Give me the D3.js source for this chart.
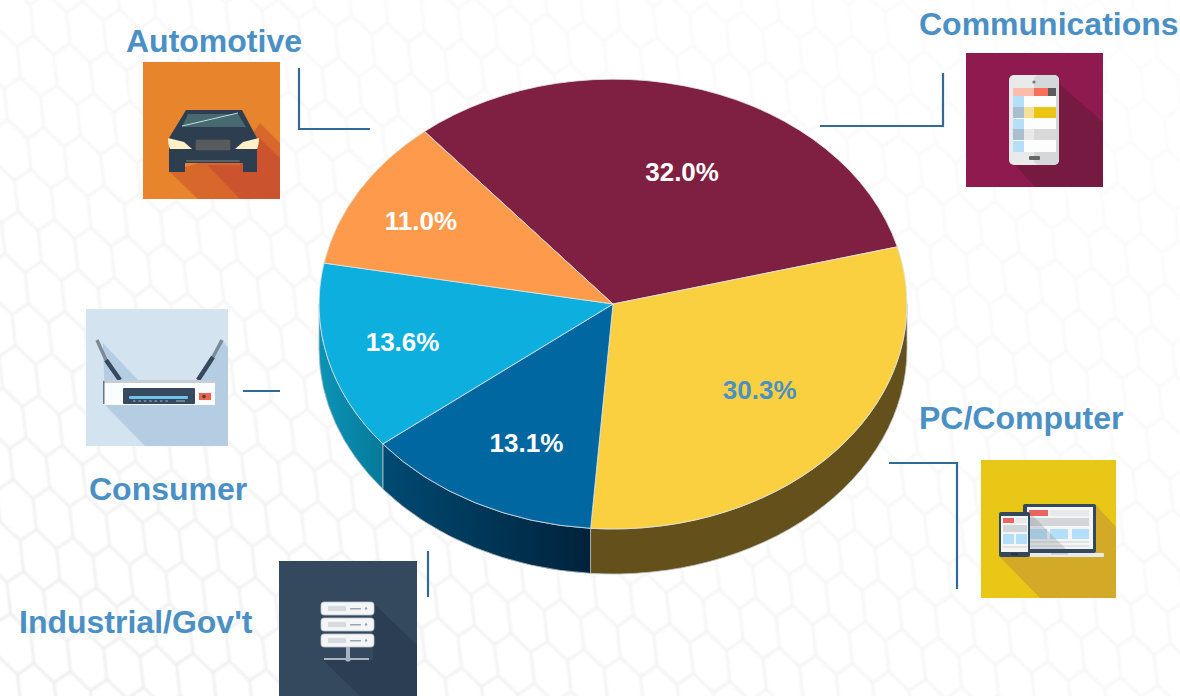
<!DOCTYPE html>
<html><head><meta charset="utf-8">
<style>html,body{margin:0;padding:0;background:#fff;overflow:hidden}svg{display:block}text{font-family:"Liberation Sans",Arial,sans-serif;font-weight:bold}</style>
<script src="https://cdn.jsdelivr.net/npm/d3@7/dist/d3.min.js"></script>
</head><body><svg id="c" width="1180" height="696"></svg>
<script>
const categories = ["Communications","PC/Computer","Industrial/Gov't","Consumer","Automotive"];
const shares = [32.0,30.3,13.1,13.6,11.0];
const topColors = ["#7f2043","#fad040","#0067a0","#0dafde","#fe9a4b"];
const labelColors = ["#ffffff","#4a90c4","#ffffff","#ffffff","#ffffff"];
const wallLeft = ["#4d1428","#63501a","#004a72","#0b94b6","#a05a20"];
const wallRight = ["#4d1428","#63501a","#00223b","#06799a","#a05a20"];

const W=1180,H=696,cx=613,cy=304,rx=294,ry=225,depth=45,startDeg=-39.9;
const labelNudge=[[11,7],[0,-8],[3,10],[-25,3],[-27,-9]];
const svg=d3.select("#c");
const defs=svg.append("defs");
const x=d3.scaleLinear().domain([-1,1]).range([cx-rx,cx+rx]);
const y=d3.scaleLinear().domain([-1,1]).range([cy-ry,cy+ry]);
const rad=Math.PI/180;

/* ---------- faint hexagon backdrop ---------- */
const A=[36.5,8],B=[-13,42];
const v1=[(2*A[0]+B[0])/3,(2*A[1]+B[1])/3],v2=[(A[0]+2*B[0])/3,(A[1]+2*B[1])/3],v3=[(B[0]-A[0])/3,(B[1]-A[1])/3];
const hexV=[v1,v2,v3,[-v1[0],-v1[1]],[-v2[0],-v2[1]],[-v3[0],-v3[1]]];
const fade=defs.append("linearGradient").attr("id","fade").attr("x1",0).attr("y1",1).attr("x2",1).attr("y2",0);
fade.append("stop").attr("offset",0).attr("stop-color","#fff").attr("stop-opacity",1);
fade.append("stop").attr("offset",.45).attr("stop-color","#fff").attr("stop-opacity",.5);
fade.append("stop").attr("offset",1).attr("stop-color","#fff").attr("stop-opacity",.15);
const mask=defs.append("mask").attr("id","hexMask").attr("maskUnits","userSpaceOnUse").attr("x",0).attr("y",0).attr("width",W).attr("height",H);
mask.append("rect").attr("width",W).attr("height",H).attr("fill","url(#fade)");
defs.append("filter").attr("id","soft").append("feGaussianBlur").attr("stdDeviation",.8);
const hp=d3.path();
for(let i=-25;i<60;i++)for(let j=-30;j<40;j++){
  const px=53+i*A[0]+j*B[0],py=518+i*A[1]+j*B[1];
  if(px<-60||px>W+60||py<-60||py>H+60)continue;
  hexV.forEach((v,k)=>{k?hp.lineTo(px+v[0],py+v[1]):hp.moveTo(px+v[0],py+v[1]);});hp.closePath();
}
svg.append("g").attr("mask","url(#hexMask)").append("path").attr("d",hp.toString())
  .attr("fill","none").attr("stroke","#ececec").attr("stroke-width",2.6).attr("filter","url(#soft)");

/* ---------- pie ---------- */
const pie=d3.pie().sort(null).startAngle(startDeg*rad).endAngle((startDeg+360)*rad);
const arcs=pie(shares);
const unitArc=d3.arc().innerRadius(0).outerRadius(1);
const g=svg.append("g");

function wallPath(a0,a1){
  const px=a=>x(Math.sin(a)),py=a=>y(-Math.cos(a));
  return `M${px(a0)},${py(a0)}A${rx},${ry} 0 0 1 ${px(a1)},${py(a1)}L${px(a1)},${py(a1)+depth}A${rx},${ry} 0 0 0 ${px(a0)},${py(a0)+depth}Z`;
}
arcs.forEach((d,i)=>{
  const lo=Math.max(d.startAngle,90*rad),hi=Math.min(d.endAngle,270*rad);
  if(hi<=lo)return;
  const id="wall"+i;
  const xa=x(Math.sin(lo)),xb=x(Math.sin(hi));
  const gr=defs.append("linearGradient").attr("id",id).attr("gradientUnits","userSpaceOnUse")
    .attr("x1",Math.min(xa,xb)).attr("x2",Math.max(xa,xb)).attr("y1",0).attr("y2",0);
  gr.append("stop").attr("offset",0).attr("stop-color",wallLeft[i]);
  gr.append("stop").attr("offset",1).attr("stop-color",wallRight[i]);
  g.append("path").attr("d",wallPath(lo,hi)).attr("fill",`url(#${id})`)
    .attr("stroke","#b9bfc4").attr("stroke-width",.8);
});
g.append("g").attr("transform",`translate(${cx},${cy}) scale(${rx},${ry})`)
 .selectAll("path").data(arcs).join("path").attr("d",unitArc)
 .attr("fill",(d,i)=>topColors[i]).attr("stroke","#dfe3e6").attr("stroke-width",.8)
 .attr("vector-effect","non-scaling-stroke").style("vector-effect","non-scaling-stroke");
svg.selectAll("text.pct").data(arcs).join("text").attr("class","pct")
 .attr("x",(d,i)=>x(.65*Math.sin((d.startAngle+d.endAngle)/2))+labelNudge[i][0])
 .attr("y",(d,i)=>y(-.65*Math.cos((d.startAngle+d.endAngle)/2))+labelNudge[i][1])
 .attr("dy",".35em").attr("text-anchor","middle").attr("font-size",26)
 .attr("fill",(d,i)=>labelColors[i]).text(d=>d3.format(".1f")(d.value)+"%");

/* ---------- leaders ---------- */
const leaders=[[[299,68],[299,129],[370,129]],[[943,73],[943,126],[820,126]],[[243,391],[280,391]],[[428,551],[428,597]],[[889,463],[957,463],[957,589]]];
const ln=d3.line();
svg.selectAll("path.lead").data(leaders).join("path").attr("class","lead").attr("d",ln)
 .attr("fill","none").attr("stroke","#336a95").attr("stroke-width",2.2);

/* ---------- category names ---------- */
const namePos=[[919,35],[919,429],[19,633],[89,500],[126,52]];
svg.selectAll("text.name").data(categories).join("text").attr("class","name")
 .attr("x",(d,i)=>namePos[i][0]).attr("y",(d,i)=>namePos[i][1]).attr("font-size",32).attr("fill","#4a90c4").text(d=>d);

/* ---------- icons ---------- */
const ic=svg.append("g");
const R=(x0,y0,x1,y1,f,rr)=>ic.append("rect").attr("x",x0).attr("y",y0).attr("width",x1-x0).attr("height",y1-y0).attr("fill",f).attr("rx",rr||0);
const P=(pts,f,o)=>ic.append("polygon").attr("points",pts).attr("fill",f).attr("opacity",o==null?1:o);
const D=(d,f)=>ic.append("path").attr("d",d).attr("fill",f);
const L=(a,b,c,e,s,w)=>ic.append("line").attr("x1",a).attr("y1",b).attr("x2",c).attr("y2",e).attr("stroke",s).attr("stroke-width",w);

// car
R(143,62,280,199,"#e8842c");
P("170,172 198,199 280,199 280,143 260,123 240,150","#d8672c");
P("207,165 240,199 280,199 280,158 258,137 240,165","#cb542e");
D("M186,110L242,110L257,138V172H243V163H185V172H169V138Z","#2c3e50");
R(167,121,10,7,"#2c3e50",3);R(250,121,10,7,"#2c3e50",3);
P("182,127 188,114 238,114 246,127","#47696f");
L(182,126,238,113,"#bfe0e8",1);
D("M168,138L184,142L192,149L170,149Q168,145 168,138Z","#fdf0c8");
D("M259,138L243,142L235,149L257,149Q259,145 259,138Z","#fdf0c8");
R(195,139,231,151,"#3f4548",3);
d3.range(197,231,2).forEach(v=>L(v,140,v,150,"#7b7f7f",.8));
R(186,160,240,162,"#5a6068",1);

// phone
R(966,53,1103,187,"#8f1a50");
P("1057,82 1103,122 1103,187 1035,187 1015,165 1057,165","#771a41");
R(1009,75,1059,165,"#e9eaea",5);
R(1034,75,1059,165,"#d5d8da",5);
R(1013,88,1056,152,"#fdfdfe");
R(1013,88,1034,96,"#fdbcab");R(1034,88,1048,96,"#f7705a");R(1048,88,1056,96,"#5b5b5b");
[96,119,141].forEach(t=>R(1013,t,1024,t+11,"#b3e0f8"));
R(1013,107,1024,118,"#a9bfd0");R(1024,107,1034,118,"#f5e09a");R(1034,107,1056,118,"#eac516");
R(1013,129,1024,140,"#a9bfd0");R(1024,129,1034,140,"#e9e9e9");R(1034,129,1056,140,"#d9d9d9");
ic.append("circle").attr("cx",1034).attr("cy",82).attr("r",1.6).attr("fill","#777");
R(1029,156,1040,160,"#666",1);

// router
R(86,309,228,446,"#d4e3f0");
P("103,343 138,380 197,380 222,340 228,348 228,446 145,446 105,405","#b5cde2");
L(97,340,106,360,"#7d8a97",3.5);L(106,360,120,380,"#36495e",4.5);
L(222,340,213,357,"#7d8a97",3.5);L(213,357,198,380,"#36495e",4.5);
R(103,380,215,405,"#fbfcfd");
R(103,380,215,383,"#c6cdd6");R(103,381,104.5,404,"#6a7786");
R(123,388,195,404,"#36495e",1);
R(129,396,188,399,"#6ec3ea",1);
d3.range(133,170,5.4).forEach(v=>R(v,400.5,v+2.5,401.5,"#a8b4c0"));
R(176,400.5,185,401.5,"#a8b4c0");
R(199,393,211,400,"#f0604a");
ic.append("circle").attr("cx",204).attr("cy",396.5).attr("r",1.8).attr("fill","#444");

// server
R(279,561,417,696,"#34495e");
P("373,603 417,645 417,696 360,696 323,660 373,660","#2b3e53");
[602,618,634].forEach(t=>{
  ic.append("rect").attr("x",321).attr("y",t).attr("width",53).attr("height",13).attr("rx",3).attr("fill","#f3f5f7").attr("stroke","#bcc5cf").attr("stroke-width",.8);
  R(328,t+4,346,t+9,"#d5dae0");R(350,t+6,361,t+7.5,"#9aa5b1");
  ic.append("circle").attr("cx",366).attr("cy",t+6.5).attr("r",1.3).attr("fill","#9aa5b1");
});
R(346,647,350,660,"#a9b4c0");R(324,658,369,660,"#a9b4c0");
ic.append("circle").attr("cx",348).attr("cy",659).attr("r",2.6).attr("fill","#a9b4c0");

// laptop + tablet
R(981,460,1116,598,"#e9c716");
P("1096,505 1116,527 1116,598 1040,598 1000,557 1096,557","#d3aa28");
R(1023,504,1096,553,"#34495e",2);
R(1027,507,1093,549,"#f5f5f5");
R(1029,510,1048,516,"#ea6460");R(1050,510,1089,516,"#e6e8ea");
R(1029,518,1089,526,"#d3d6d9");
[[1030,1047],[1050,1068],[1072,1089]].forEach(a=>R(a[0],529,a[1],539,"#b3e0f8"));
R(1030,541,1089,543,"#e1e3e5");R(1030,545,1089,547,"#e1e3e5");
P("1030,513 1066,549 1030,549","#7f8a90",.28);
R(1030,553,1104,557,"#e8eaec",1);R(1051,553,1068,554.5,"#c5c9cd");
R(999,512,1030,557,"#34495e",2);
R(1001,516,1028,552,"#f5f5f5");
R(1003,518,1014,523,"#ea6460");R(1016,518,1027,523,"#e6e8ea");
R(1003,525,1027,532,"#d3d6d9");
R(1003,534,1014,544,"#b3e0f8");R(1016,534,1027,544,"#b3e0f8");
R(1003,546,1027,548,"#e1e3e5");
R(1011,553.5,1018,555,"#1f2d3a");
</script></body></html>
